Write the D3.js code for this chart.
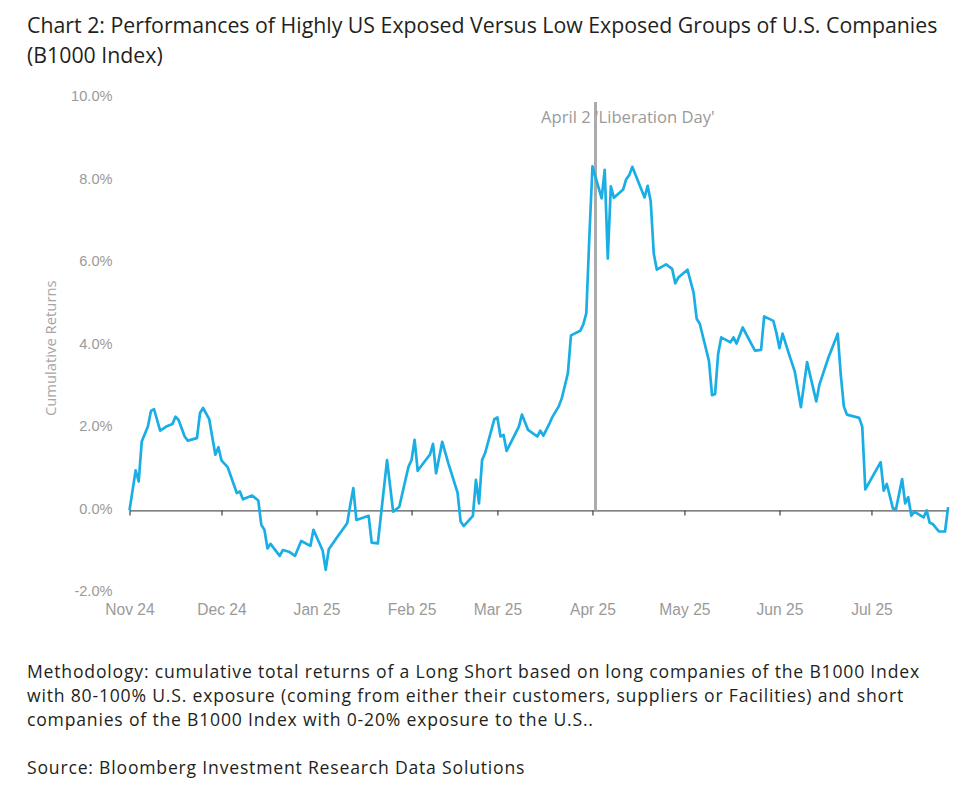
<!DOCTYPE html>
<html lang="en">
<head>
<meta charset="UTF-8">
<title>Chart 2: Highly US Exposed vs Low Exposed</title>
<script src="https://cdn.jsdelivr.net/npm/d3@7"></script>
<style>
    body { margin: 0; background: #fff; }
    svg { display: block; font-family: "Open Sans", "Noto Sans", sans-serif; }
    .title { fill: #231f20; font-size: 21.3px; }
    .note { fill: #231f20; font-size: 17.6px; letter-spacing: 0.8px; }
    .tick_lbl { fill: #9a9a9a; font-size: 14.6px; }
    .x_lbl { fill: #9a9a9a; font-size: 15.6px; }
    .event_lbl { fill: #9a9a9a; font-size: 16.6px; }
    .line_main { fill: none; stroke: #1aaee5; stroke-width: 2.7px; stroke-linejoin: round; }
</style>
</head>
<body>
<div id="chart"></div>
<script>
    // dates of each vertex of the line
    var dates = [
        "2024-11-01","2024-11-03","2024-11-04","2024-11-05","2024-11-07","2024-11-08","2024-11-09","2024-11-11",
        "2024-11-13","2024-11-15","2024-11-16","2024-11-17","2024-11-19","2024-11-20","2024-11-23","2024-11-24",
        "2024-11-25","2024-11-27","2024-11-29","2024-11-30","2024-12-01","2024-12-03","2024-12-06","2024-12-07",
        "2024-12-08","2024-12-11","2024-12-13","2024-12-14","2024-12-15","2024-12-16","2024-12-17","2024-12-20",
        "2024-12-21","2024-12-23","2024-12-25","2024-12-27","2024-12-30","2024-12-31","2025-01-03","2025-01-04",
        "2025-01-05","2025-01-08","2025-01-11","2025-01-12","2025-01-13","2025-01-14","2025-01-18","2025-01-19",
        "2025-01-21","2025-01-24","2025-01-26","2025-01-28","2025-01-31","2025-02-01","2025-02-02","2025-02-03",
        "2025-02-05","2025-02-07","2025-02-08","2025-02-09","2025-02-11","2025-02-13","2025-02-16","2025-02-17",
        "2025-02-18","2025-02-21","2025-02-22","2025-02-23","2025-02-24","2025-02-25","2025-02-28","2025-03-01",
        "2025-03-02","2025-03-03","2025-03-04","2025-03-08","2025-03-09","2025-03-11","2025-03-14","2025-03-15",
        "2025-03-16","2025-03-18","2025-03-19","2025-03-21","2025-03-22","2025-03-23","2025-03-24","2025-03-25",
        "2025-03-28","2025-03-29","2025-03-30","2025-03-31","2025-04-01","2025-04-02","2025-04-04","2025-04-05",
        "2025-04-06","2025-04-07","2025-04-08","2025-04-11","2025-04-12","2025-04-13","2025-04-14","2025-04-18",
        "2025-04-19","2025-04-20","2025-04-21","2025-04-22","2025-04-25","2025-04-27","2025-04-28","2025-04-29",
        "2025-05-02","2025-05-04","2025-05-05","2025-05-06","2025-05-09","2025-05-10","2025-05-11","2025-05-12",
        "2025-05-13","2025-05-16","2025-05-17","2025-05-18","2025-05-20","2025-05-24","2025-05-26","2025-05-27",
        "2025-05-30","2025-05-31","2025-06-01","2025-06-02","2025-06-04","2025-06-06","2025-06-08","2025-06-10",
        "2025-06-13","2025-06-14","2025-06-17","2025-06-20","2025-06-21","2025-06-22","2025-06-23","2025-06-27",
        "2025-06-28","2025-06-29","2025-07-04","2025-07-05","2025-07-06","2025-07-08","2025-07-09","2025-07-11",
        "2025-07-12","2025-07-13","2025-07-14","2025-07-15","2025-07-18","2025-07-19","2025-07-20","2025-07-21",
        "2025-07-23","2025-07-25","2025-07-26"
    ];

    // cumulative return of the long short, in %
    var returns = [
        0.00, 0.97, 0.70, 1.67, 2.03, 2.41, 2.45, 1.93,
        2.03, 2.09, 2.27, 2.19, 1.79, 1.69, 1.75, 2.36,
        2.48, 2.21, 1.35, 1.53, 1.21, 1.05, 0.42, 0.46,
        0.27, 0.36, 0.24, -0.35, -0.47, -0.92, -0.81, -1.10,
        -0.96, -1.00, -1.10, -0.74, -0.86, -0.47, -0.97, -1.44,
        -0.94, -0.62, -0.31, 0.13, 0.54, -0.23, -0.13, -0.78,
        -0.80, 1.22, -0.03, 0.09, 1.06, 1.22, 1.71, 0.96,
        1.16, 1.35, 1.61, 0.90, 1.66, 1.14, 0.43, -0.27,
        -0.38, -0.13, 0.74, 0.17, 1.22, 1.39, 2.21, 2.25,
        1.79, 1.83, 1.44, 2.03, 2.32, 1.95, 1.79, 1.93,
        1.81, 2.11, 2.27, 2.52, 2.72, 3.02, 3.33, 4.24,
        4.35, 4.50, 4.78, 6.64, 8.33, 8.07, 7.56, 8.25,
        6.10, 7.85, 7.57, 7.77, 8.02, 8.12, 8.32, 7.58,
        7.86, 7.49, 6.22, 5.83, 5.96, 5.85, 5.50, 5.64,
        5.83, 5.27, 4.64, 4.52, 3.62, 2.79, 2.82, 3.79,
        4.19, 4.07, 4.19, 4.04, 4.43, 3.87, 3.89, 4.70,
        4.59, 4.30, 3.93, 4.28, 3.81, 3.36, 2.50, 3.59,
        2.64, 3.04, 3.71, 4.28, 3.28, 2.52, 2.32, 2.24,
        2.03, 0.51, 1.17, 0.48, 0.64, 0.05, 0.03, 0.76,
        0.17, 0.32, -0.13, -0.03, -0.17, 0.00, -0.30, -0.33,
        -0.51, -0.51, 0.08
    ];

    // axis ticks and the event marker
    var yTicks = [-2, 0, 2, 4, 6, 8, 10];
    var xStart = "2024-11-01", xEnd = "2025-07-26";
    var eventDate = "2025-04-02";
    var eventLabel = "April 2 'Liberation Day'";

    var titleLines = [
        "Chart 2: Performances of Highly US Exposed Versus Low Exposed Groups of U.S. Companies",
        "(B1000 Index)"
    ];
    var noteLines = [
        "Methodology: cumulative total returns of a Long Short based on long companies of the B1000 Index",
        "with 80-100% U.S. exposure (coming from either their customers, suppliers or Facilities) and short",
        "companies of the B1000 Index with 0-20% exposure to the U.S..",
        "",
        "Source: Bloomberg Investment Research Data Solutions"
    ];

    // set the dimensions and margins of the graph
    var W = 969, H = 803;
    var margin = {top: 97.5, left: 129.5};
    var width = 818.6, height = 495.5;

    var parseTime = d3.timeParse("%Y-%m-%d");
    var data = dates.map(function(d, i) { return {date: parseTime(d), value: returns[i]}; });

    var x = d3.scaleTime()
        .domain([parseTime(xStart), parseTime(xEnd)])
        .range([0, width]);
    var y = d3.scaleLinear().domain([-2, 10]).range([height, 0]);

    var svg = d3.select("#chart").append("svg")
        .attr("width", W)
        .attr("height", H);

    // title
    svg.append("g").selectAll("text")
        .data(titleLines)
        .enter().append("text")
        .attr("class", "title")
        .attr("x", 27)
        .attr("y", function(d, i) { return 33 + i * 29.5; })
        .text(function(d) { return d; });

    var g = svg.append("g")
        .attr("transform", "translate(" + margin.left + "," + margin.top + ")");

    // y tick labels, no axis line
    var yAxis = g.append("g")
        .call(d3.axisLeft(y).tickValues(yTicks).tickSize(0).tickPadding(17)
            .tickFormat(function(d) { return d.toFixed(1) + "%"; }));
    yAxis.select(".domain").remove();
    yAxis.selectAll("text").attr("class", "tick_lbl").attr("fill", null)
        .attr("font-family", null).attr("font-size", null).attr("dy", "0.2em");

    // y axis title
    g.append("text")
        .attr("transform", "rotate(-90)")
        .attr("x", -(y(4) + 3))
        .attr("y", -74)
        .attr("text-anchor", "middle")
        .attr("fill", "#a6a6a6")
        .style("font-size", "14.8px")
        .text("Cumulative Returns");

    // the x axis sits on the zero line
    var xAxis = g.append("g")
        .attr("transform", "translate(0," + y(0) + ")")
        .call(d3.axisBottom(x)
            .tickValues(d3.timeMonth.range(parseTime(xStart), parseTime(xEnd)))
            .tickSize(5)
            .tickSizeOuter(0)
            .tickFormat(d3.timeFormat("%b %y")));
    xAxis.select(".domain").attr("stroke", "#595959").attr("stroke-width", 1.4);
    xAxis.selectAll(".tick line").attr("stroke", "#404040").attr("stroke-width", 1.2);
    xAxis.selectAll("text").attr("class", "x_lbl").attr("fill", null)
        .attr("font-family", null).attr("font-size", null)
        .attr("y", 99).attr("dy", "0.35em");

    // event marker
    g.append("line")
        .attr("x1", x(parseTime(eventDate)))
        .attr("x2", x(parseTime(eventDate)))
        .attr("y1", 4.5)
        .attr("y2", y(0))
        .attr("stroke", "#ababab")
        .attr("stroke-width", 3);

    g.append("text")
        .attr("class", "event_lbl")
        .attr("x", x(parseTime(eventDate)) - 54.5)
        .attr("y", 20)
        .attr("dy", "0.35em")
        .text(eventLabel);

    // the cumulative return line
    var line = d3.line()
        .x(function(d) { return x(d.date); })
        .y(function(d) { return y(d.value); });

    g.append("path")
        .datum(data)
        .attr("class", "line_main")
        .attr("d", line);

    // methodology and source
    svg.append("g").selectAll("text")
        .data(noteLines)
        .enter().append("text")
        .attr("class", "note")
        .attr("x", 27)
        .attr("y", function(d, i) { return 678 + i * 24; })
        .text(function(d) { return d; });
</script>
</body>
</html>
